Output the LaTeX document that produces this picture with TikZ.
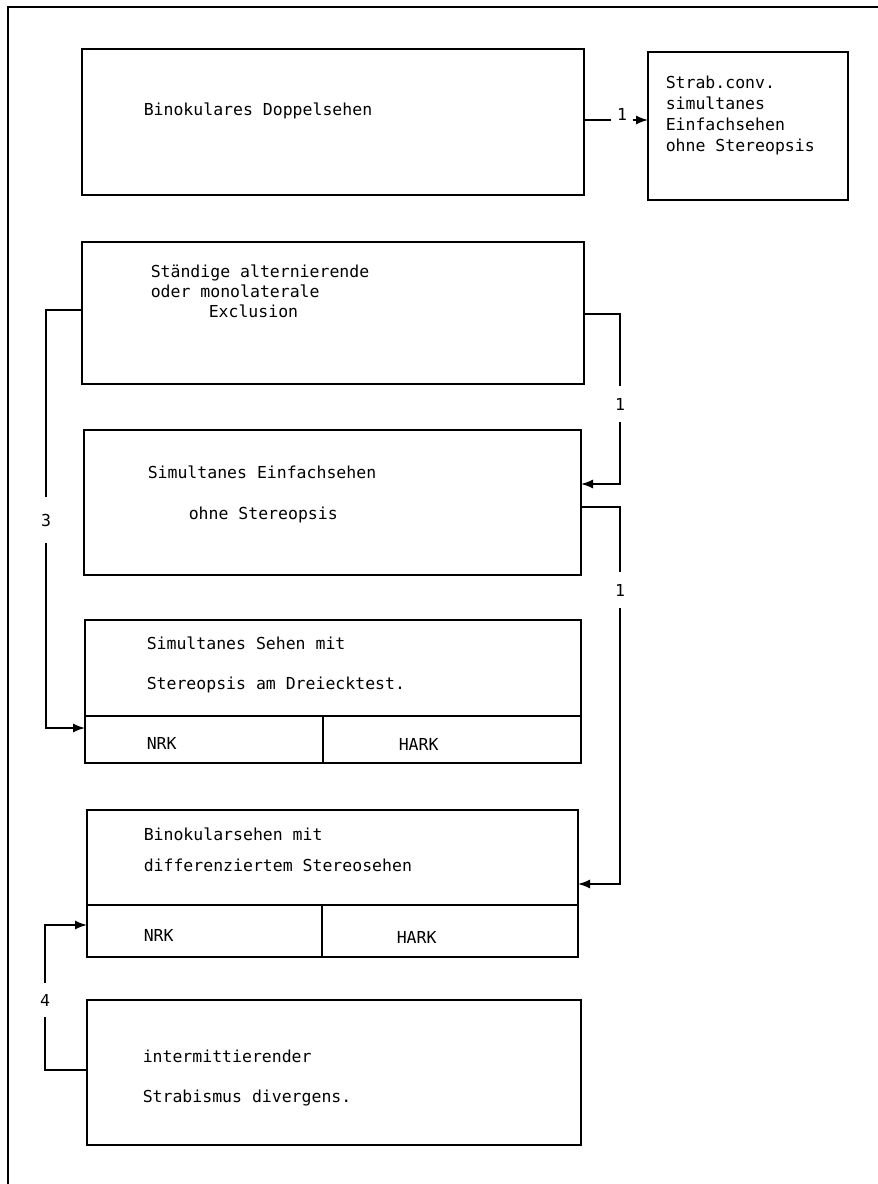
\documentclass[tikz,border=0pt]{standalone}
\usepackage{fontspec}
\newfontfamily\pfont{DejaVu Sans Mono}
\usetikzlibrary{arrows.meta}
\begin{document}
\begin{tikzpicture}[x=1pt,y=-1pt,
  line width=1.5pt,
  box/.style={draw,rectangle,anchor=north west,inner sep=0pt,outer sep=0pt},
  txt/.style={anchor=base west,inner sep=0pt,font=\pfont\fontsize{16.5}{20}\selectfont},
  lbl/.style={inner sep=0pt,font=\pfont\fontsize{16.5}{20}\selectfont},
  arr/.style={-{Latex[length=12pt,width=9pt]}}]
\useasboundingbox (0,0) rectangle (878,1184);
% frame
\coordinate (ftl) at (8,7);
\coordinate (fbl) at (8,1184);
\coordinate (ftr) at (878,7);
\draw (fbl) -- (ftl) -- (ftr);
% boxes
\node[box,minimum width=502pt,minimum height=146pt] (b1) at (82,49) {};
\node[box,minimum width=200pt,minimum height=148pt] (rb) at (648,52) {};
\node[box,minimum width=502pt,minimum height=142pt] (b2) at (82,242) {};
\node[box,minimum width=497pt,minimum height=145pt] (b3) at (84,430) {};
\node[box,minimum width=496pt,minimum height=143pt] (b4) at (85,620) {};
\node[box,minimum width=491pt,minimum height=147pt] (b5) at (87,810) {};
\node[box,minimum width=494pt,minimum height=145pt] (b6) at (87,1000) {};
% dividers
\draw ([yshift=-96pt]b4.north west) -- ([yshift=-96pt]b4.north east);
\draw ([xshift=238pt,yshift=-96pt]b4.north west) -- ([xshift=238pt]b4.south west);
\draw ([yshift=-95pt]b5.north west) -- ([yshift=-95pt]b5.north east);
\draw ([xshift=235pt,yshift=-95pt]b5.north west) -- ([xshift=235pt]b5.south west);
% texts
\node[txt] (t1) at (143,115) {Binokulares Doppelsehen};
\node[txt] (r1) at (665,88) {Strab.conv.};
\node[txt] (r2) at (665,109) {simultanes};
\node[txt] (r3) at (665,130) {Einfachsehen};
\node[txt] (r4) at (665,151) {ohne Stereopsis};
\node[txt] (s1) at (150,277) {Ständige alternierende};
\node[txt] (s2) at (150,297) {oder monolaterale};
\node[txt] (s3) at (208,317) {Exclusion};
\node[txt] (e1) at (147,478) {Simultanes Einfachsehen};
\node[txt] (e2) at (188,519) {ohne Stereopsis};
\node[txt] (d1) at (146,649) {Simultanes Sehen mit};
\node[txt] (d2) at (146,689) {Stereopsis am Dreiecktest.};
\node[txt] (d3) at (146,749) {NRK};
\node[txt] (d4) at (398,750) {HARK};
\node[txt] (f1) at (143,840) {Binokularsehen mit};
\node[txt] (f2) at (143,871) {differenziertem Stereosehen};
\node[txt] (f3) at (143,941) {NRK};
\node[txt] (f4) at (396,943) {HARK};
\node[txt] (g1) at (142,1062) {intermittierender};
\node[txt] (g2) at (142,1102) {Strabismus divergens.};
% labels
\node[lbl,anchor=base,inner xsep=5pt] (l1a) at (622,120) {1};
\node[lbl,minimum height=44pt] (l3) at (46,520) {3};
\node[lbl,minimum height=34pt] (l1b) at (620,404) {1};
\node[lbl,minimum height=35pt] (l1c) at (620,590) {1};
\node[lbl,minimum height=32pt] (l4) at (45,1000) {4};
% connectors
\draw ([yshift=-71pt]b1.north east) -- (l1a.base west);
\draw[arr] (l1a.base east) -- (rb.west |- l1a.base);
\draw ([yshift=-68pt]b2.north west) -| (l3.north);
\draw[arr] (l3.south) |- ([yshift=-108pt]b4.north west);
\draw ([yshift=-72pt]b2.north east) -| (l1b.north);
\draw[arr] (l1b.south) |- ([yshift=-54pt]b3.north east);
\draw ([yshift=-77pt]b3.north east) -| (l1c.north);
\draw[arr] (l1c.south) |- ([yshift=-74pt]b5.north east);
\draw ([yshift=-70pt]b6.north west) -| (l4.south);
\draw[arr] (l4.north) |- ([yshift=-115pt]b5.north west);
\end{tikzpicture}
\end{document}
